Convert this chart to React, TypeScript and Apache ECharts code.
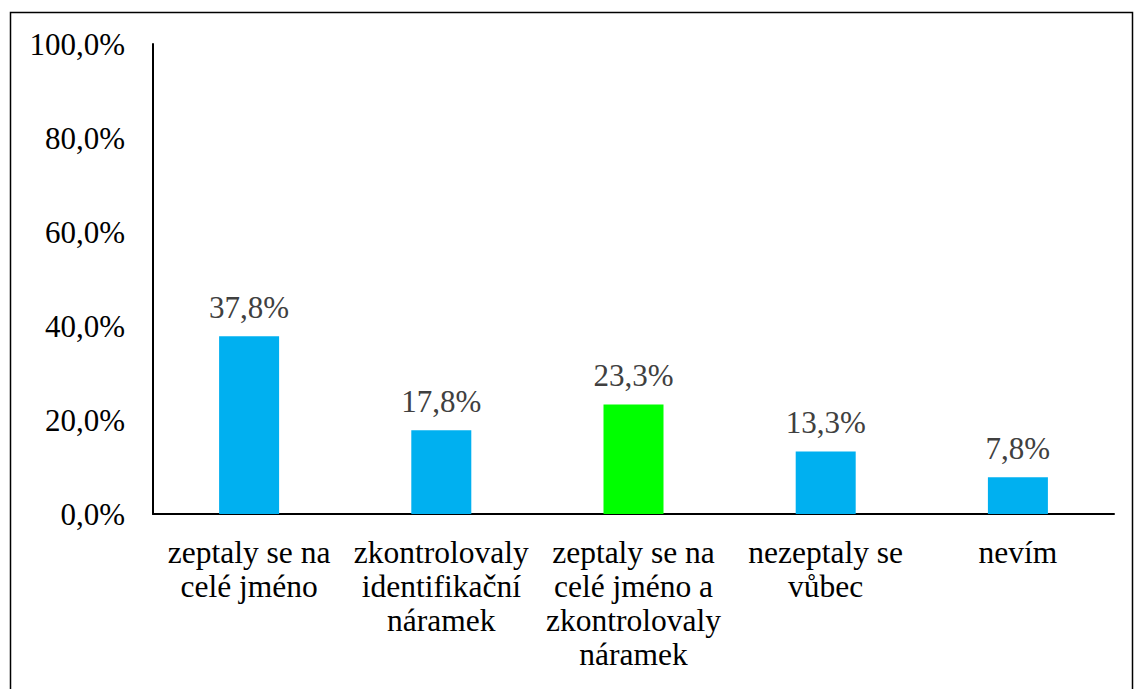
import React, { useEffect, useRef } from "react";
import * as echarts from "echarts";

const categories = [
  "zeptaly se na\ncelé jméno",
  "zkontrolovaly\nidentifikační\nnáramek",
  "zeptaly se na\ncelé jméno a\nzkontrolovaly\nnáramek",
  "nezeptaly se\nvůbec",
  "nevím",
];
const values = [37.8, 17.8, 23.3, 13.3, 7.8];
const barColors = ["#00B0F0", "#00B0F0", "#00FF00", "#00B0F0", "#00B0F0"];

const fmt = (v: number) => v.toFixed(1).replace(".", ",") + "%";

export default function App() {
  const ref = useRef<HTMLDivElement>(null);
  useEffect(() => {
    if (!ref.current) return;
    const chart = echarts.init(ref.current, undefined, { renderer: "svg" });
    const font = "Liberation Serif";
    chart.setOption({
      animation: false,
      backgroundColor: "#fff",
      textStyle: { fontFamily: font },
      graphic: [
        {
          type: "rect",
          shape: { x: 10.5, y: 12.5, width: 1122, height: 720 },
          style: { fill: "none", stroke: "#000", lineWidth: 1.5 },
          silent: true,
        },
      ],
      grid: { left: 153, top: 44, right: 21, bottom: 175, containLabel: false },
      xAxis: {
        type: "category",
        data: categories,
        axisLine: { show: true, lineStyle: { color: "#000", width: 2 } },
        axisTick: { show: false },
        axisLabel: {
          interval: 0,
          color: "#000",
          fontFamily: font,
          fontSize: 31.5,
          lineHeight: 34,
          margin: 21,
          align: "center",
        },
      },
      yAxis: {
        type: "value",
        min: 0,
        max: 100,
        interval: 20,
        axisLine: { show: true, lineStyle: { color: "#000", width: 2 } },
        axisTick: { show: false },
        splitLine: { show: false },
        axisLabel: {
          color: "#000",
          fontFamily: font,
          fontSize: 31,
          margin: 28,
          formatter: (v: number) => fmt(v),
        },
      },
      series: [
        {
          type: "bar",
          barWidth: 60,
          data: values.map((v, i) => ({ value: v, itemStyle: { color: barColors[i] } })),
          label: {
            show: true,
            position: "top",
            distance: 13,
            color: "#404040",
            fontFamily: font,
            fontSize: 31,
            formatter: (p: any) => fmt(p.value),
          },
        },
      ],
    });
    return () => chart.dispose();
  }, []);
  return (
    <div
      ref={ref}
      style={{ position: "fixed", left: 0, top: 0, width: 1135, height: 689 }}
    />
  );
}
